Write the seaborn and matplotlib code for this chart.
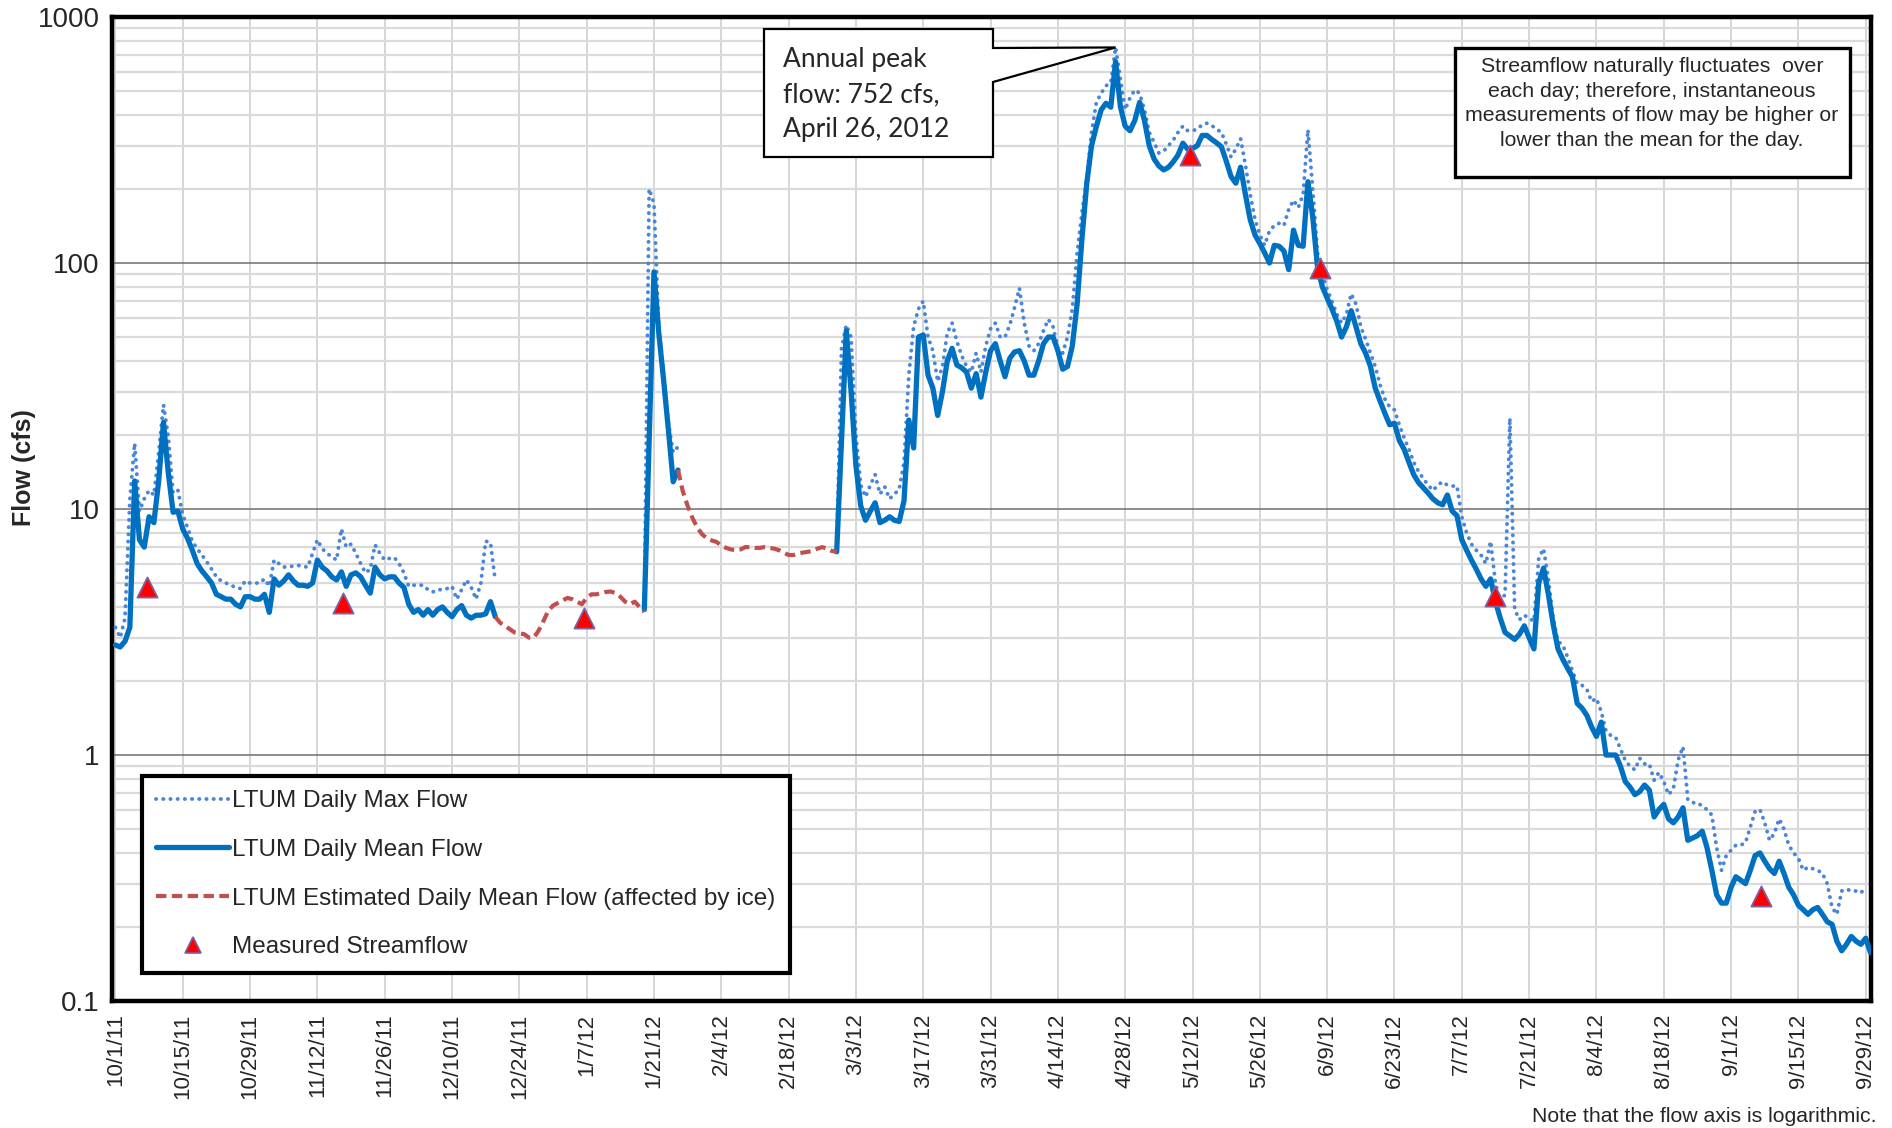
import pandas as pd
import matplotlib.pyplot as plt
import matplotlib.dates as mdates
from matplotlib.lines import Line2D
from matplotlib.patches import Polygon, Rectangle
from matplotlib.ticker import FixedLocator, LogLocator, NullFormatter
import seaborn as sns

# Water year 2012, days counted from 10/1/2011
WY_START = pd.Timestamp('2011-10-01')

# LTUM daily mean flow (cfs) - open water periods
mean_fall_days = list(range(0, 80))
mean_fall = [2.8, 2.75, 2.9, 3.3, 13.0, 7.5, 7.0, 9.3, 8.8, 13.0,
             22.5, 14.0, 9.7, 9.8, 8.3, 7.6, 6.8, 6.0, 5.6, 5.3,
             5.0, 4.5, 4.4, 4.3, 4.3, 4.1, 4.0, 4.4, 4.4, 4.3,
             4.3, 4.5, 3.8, 5.2, 4.9, 5.1, 5.4, 5.1, 4.9, 4.9,
             4.85, 5.0, 6.2, 5.8, 5.6, 5.3, 5.15, 5.55, 4.85, 5.4,
             5.5, 5.3, 4.9, 4.55, 5.8, 5.4, 5.2, 5.3, 5.3, 5.0,
             4.8, 4.1, 3.8, 3.9, 3.7, 3.9, 3.7, 3.9, 4.0, 3.8,
             3.65, 3.9, 4.05, 3.7, 3.6, 3.7, 3.7, 3.75, 4.2, 3.65]
mean_jan_days = [110, 112, 113, 114, 115, 116, 117]
mean_jan = [3.9, 92, 52, 33.5, 21, 12.9, 14.4]
mean_spring_days = [150] + list(range(152, 366))
mean_spring = [6.7,
               53, 30, 15, 10.3, 9.0, 9.8, 10.6, 8.8, 9.0, 9.3,
               9.0, 8.9, 10.8, 23, 17.7, 50, 51, 35, 31, 24,
               30, 40, 45, 38.5, 37.5, 36, 31, 35.5, 28.5, 36,
               44, 47, 40, 34.5, 41, 43.5, 44, 40, 35, 35,
               40, 47, 50, 50, 44, 37, 38, 46, 68, 125,
               210, 300, 359, 419, 446, 430, 659, 432, 360, 345,
               380, 450, 380, 300, 265, 248, 239, 245, 258, 275,
               307, 290, 292, 300, 330, 330, 318, 308, 297, 260,
               225, 211, 245, 190, 150, 130, 120, 110, 100, 118,
               117, 112, 94, 136, 118, 117, 214, 154, 96, 80,
               72, 65, 58, 50, 55, 64, 55, 47, 43, 38,
               31, 27.5, 24.5, 22, 22.3, 19, 17.5, 15.5, 13.8, 12.8,
               12.2, 11.6, 11.0, 10.6, 10.4, 11.4, 9.8, 9.4, 7.5, 6.8,
               6.2, 5.7, 5.2, 4.85, 5.2, 4.2, 3.6, 3.15, 3.05, 2.95,
               3.1, 3.35, 3.0, 2.7, 5.0, 5.75, 4.5, 3.4, 2.7, 2.45,
               2.25, 2.08, 1.62, 1.55, 1.45, 1.3, 1.19, 1.36, 1.0, 1.0,
               1.0, 0.9, 0.78, 0.74, 0.69, 0.71, 0.755, 0.72, 0.56, 0.6,
               0.63, 0.55, 0.53, 0.56, 0.61, 0.45, 0.46, 0.47, 0.49, 0.42,
               0.34, 0.27, 0.25, 0.25, 0.29, 0.32, 0.31, 0.3, 0.34, 0.39,
               0.4, 0.37, 0.345, 0.33, 0.37, 0.33, 0.29, 0.27, 0.245, 0.235,
               0.225, 0.235, 0.24, 0.225, 0.21, 0.205, 0.175, 0.16, 0.17, 0.183,
               0.175, 0.17, 0.18, 0.157]

# estimated daily mean flow while affected by ice
ice_dec_days = list(range(79, 111))
ice_dec = [3.65, 3.45, 3.35, 3.25, 3.15, 3.12, 3.1, 3.0, 3.0, 3.2,
           3.5, 3.85, 4.05, 4.15, 4.25, 4.35, 4.3, 4.2, 4.1, 4.35,
           4.5, 4.5, 4.55, 4.6, 4.62, 4.55, 4.4, 4.2, 4.1, 4.2,
           4.0, 3.82]
ice_feb_days = list(range(117, 151))
ice_feb = [14.4, 11.8, 10.3, 9.2, 8.4, 7.9, 7.6, 7.45, 7.35, 7.1,
           6.95, 6.85, 6.8, 6.85, 7.0, 7.0, 6.95, 6.95, 7.0, 6.95,
           6.9, 6.8, 6.65, 6.5, 6.5, 6.6, 6.65, 6.7, 6.75, 6.9,
           7.0, 6.9, 6.75, 6.7]

# LTUM daily max flow (cfs)
max_fall_days = list(range(0, 80))
max_fall = [3.3, 3.0, 3.6, 10.9, 18.5, 9.8, 11.0, 11.9, 11.4, 17.0,
            26.5, 19.7, 11.6, 11.9, 9.5, 8.4, 7.4, 6.9, 6.5, 6.1,
            5.7, 5.3, 5.1, 5.0, 4.9, 4.8, 4.75, 5.1, 5.0, 5.0,
            5.0, 5.2, 4.85, 6.2, 6.0, 5.8, 5.85, 5.85, 5.9, 5.85,
            5.8, 6.6, 7.5, 6.9, 6.6, 6.4, 6.2, 8.3, 7.0, 7.2,
            6.6, 6.0, 5.5, 5.7, 7.15, 6.6, 6.2, 6.3, 6.35, 6.0,
            5.5, 4.85, 4.9, 4.9, 4.9, 4.7, 4.6, 4.7, 4.7, 4.75,
            4.85, 4.3, 4.7, 5.15, 4.8, 4.3, 5.0, 7.4, 7.3, 5.1]
max_jan_days = [110, 111, 112, 113, 114, 115, 116, 117]
max_jan = [4.2, 200, 175, 55, 35.7, 22.4, 17, 17.9]
max_spring_days = [150] + list(range(151, 365))
max_spring = [6.8,
              45, 56, 50, 20, 12.5, 11.2, 12.5, 13.8, 11.5, 12.3,
              11.0, 11.5, 12.0, 15.5, 35, 55, 65, 70, 50, 44,
              33, 38, 52, 57, 48, 42, 38, 36, 43, 36,
              46, 54, 57, 50, 50, 56, 66, 79, 57, 46,
              44, 47, 53, 59, 55, 45, 43, 50, 65, 110,
              160, 220, 340, 450, 490, 525, 540, 752, 560, 420,
              470, 505, 490, 420, 340, 310, 280, 285, 300, 316,
              340, 360, 345, 345, 350, 365, 370, 362, 350, 340,
              305, 270, 290, 320, 250, 190, 150, 130, 118, 135,
              142, 145, 142, 165, 180, 168, 190, 348, 200, 110,
              90, 78, 70, 62, 57, 62, 75, 68, 55, 49,
              43, 38, 32, 28, 26, 25.3, 22, 19.5, 17.5, 15.5,
              14.2, 13.3, 12.5, 11.9, 12.5, 12.9, 12.5, 12.4, 12.4, 9.3,
              8.0, 7.2, 6.8, 6.5, 6.0, 7.4, 5.0, 4.2, 4.5, 23.4,
              3.9, 3.55, 3.7, 3.6, 3.5, 6.3, 6.9, 5.2, 3.6, 2.9,
              2.8, 2.5, 2.2, 1.95, 1.92, 1.85, 1.65, 1.7, 1.5, 1.25,
              1.2, 1.18, 1.06, 0.95, 0.9, 0.87, 0.97, 0.92, 0.92, 0.79,
              0.85, 0.78, 0.69, 0.73, 0.955, 1.08, 0.66, 0.64, 0.64, 0.62,
              0.6, 0.57, 0.42, 0.34, 0.39, 0.41, 0.43, 0.43, 0.44, 0.51,
              0.59, 0.6, 0.53, 0.45, 0.48, 0.55, 0.5, 0.43, 0.4, 0.38,
              0.34, 0.35, 0.345, 0.34, 0.33, 0.3, 0.24, 0.225, 0.28, 0.285,
              0.28, 0.28, 0.275, 0.29]

# measured streamflow (field visits)
meas_days = [6.5, 47.4, 97.4, 223.5, 250.5, 287.0, 342.3]
meas_cfs = [4.8, 4.15, 3.6, 274, 95, 4.45, 0.267]

ytick_vals = [0.1, 1, 10, 100, 1000]
ytick_labels = ['0.1', '1', '10', '100', '1000']
peak_day, peak_cfs = 208, 752


def to_df(segments):
    rows = []
    for seg, (days, vals) in enumerate(segments):
        rows.append(pd.DataFrame({'day': days, 'cfs': vals, 'seg': seg}))
    df = pd.concat(rows, ignore_index=True)
    df['date'] = WY_START + pd.to_timedelta(df['day'], unit='D')
    return df


max_df = to_df([(max_fall_days, max_fall), (max_jan_days, max_jan),
                (max_spring_days, max_spring)])
mean_df = to_df([(mean_fall_days, mean_fall), (mean_jan_days, mean_jan),
                 (mean_spring_days, mean_spring)])
ice_df = to_df([(ice_dec_days, ice_dec), (ice_feb_days, ice_feb)])
meas_df = pd.DataFrame({'date': WY_START + pd.to_timedelta(meas_days, unit='D'),
                        'cfs': meas_cfs})

sns.set_style('white')
plt.rcParams['font.family'] = ['Liberation Sans', 'DejaVu Sans']

MEAN_C = '#0070C0'
MAX_C = '#4A86D8'
ICE_C = '#C0504D'
MAX_LS = (0, (0.05, 1.8))
ICE_LS = (0, (2.5, 1.3))

fig = plt.figure(figsize=(18.92, 11.28), dpi=100)
ax = fig.add_axes([112 / 1892, 127 / 1128, 1759 / 1892, 984 / 1128])

sns.lineplot(data=max_df, x='date', y='cfs', units='seg', estimator=None, ax=ax,
             color=MAX_C, linewidth=2.8, linestyle=MAX_LS,
             dash_capstyle='round', legend=False, zorder=3)
sns.lineplot(data=mean_df, x='date', y='cfs', units='seg', estimator=None, ax=ax,
             color=MEAN_C, linewidth=3.8, legend=False, zorder=4,
             solid_joinstyle='round', solid_capstyle='round')
sns.lineplot(data=ice_df, x='date', y='cfs', units='seg', estimator=None, ax=ax,
             color=ICE_C, linewidth=3.0, linestyle=ICE_LS,
             legend=False, zorder=4)
sns.scatterplot(data=meas_df, x='date', y='cfs', ax=ax, marker='^', s=210,
                color='#FF0000', edgecolor='#7F5FA0', linewidth=1.3,
                zorder=6, legend=False)

# axes
ax.set_yscale('log')
ax.set_ylim(0.1, 1000)
ax.yaxis.set_major_locator(FixedLocator(ytick_vals))
ax.set_yticklabels(ytick_labels, fontsize=20)
ax.yaxis.set_minor_locator(LogLocator(base=10, subs=range(2, 10)))
ax.yaxis.set_minor_formatter(NullFormatter())

xt = pd.date_range('2011-10-01', '2012-09-29', freq='14D')
ax.set_xlim(WY_START - pd.Timedelta(hours=17), WY_START + pd.Timedelta(days=365.1))
ax.set_xticks(xt)
ax.set_xticklabels([f'{d.month}/{d.day}/{d:%y}' for d in xt], rotation=90,
                   fontsize=16)
ax.xaxis.set_minor_locator(FixedLocator(
    mdates.date2num(pd.date_range('2011-10-08', '2012-09-22', freq='14D'))))
ax.set_xlabel('')
ax.set_ylabel('')

ax.set_axisbelow(True)
ax.grid(which='minor', axis='y', color='#dadada', linewidth=1.6)
ax.grid(which='major', axis='y', color='#7a7a7a', linewidth=1.2)
ax.grid(which='major', axis='x', color='#d0d0d0', linewidth=1.2)
ax.tick_params(axis='both', which='major', direction='out', length=6,
               width=1.2, color='#404040', pad=3)
ax.tick_params(axis='both', which='minor', direction='out', length=4,
               width=1.0, color='#404040')
for s in ax.spines.values():
    s.set_linewidth(3.2)
    s.set_color('black')

fig.text(24 / 1892, 1 - 468 / 1128, 'Flow (cfs)', rotation=90, ha='center',
         va='center', fontsize=18, fontweight='bold')
fig.text(1876 / 1892, 1 - 1117 / 1128, 'Note that the flow axis is logarithmic.',
         ha='right', va='center', fontsize=15.3)

# legend
handles = [
    Line2D([], [], color=MAX_C, lw=2.8, ls=MAX_LS, dash_capstyle='round'),
    Line2D([], [], color=MEAN_C, lw=3.8),
    Line2D([], [], color=ICE_C, lw=3.0, ls=ICE_LS),
    Line2D([], [], color='#FF0000', marker='^', ls='none', markersize=11,
           markeredgecolor='#7F5FA0', markeredgewidth=1.2),
]
labels = ['LTUM Daily Max Flow', 'LTUM Daily Mean Flow',
          'LTUM Estimated Daily Mean Flow (affected by ice)', 'Measured Streamflow']
leg = ax.legend(handles, labels, loc='lower left', bbox_to_anchor=(0.017, 0.0285),
                fontsize=17.5, frameon=True, fancybox=False, edgecolor='black',
                framealpha=1, handlelength=3.0, handletextpad=0.1,
                labelspacing=1.1, borderpad=0.6, borderaxespad=0)
leg.get_frame().set_linewidth(3.0)


def px(x, y):
    return (x / 1892, 1 - y / 1128)


# annual peak callout
tip = fig.transFigure.inverted().transform(
    ax.transData.transform((mdates.date2num(WY_START + pd.Timedelta(days=peak_day)),
                            peak_cfs)))
callout = Polygon([px(764, 29), px(993, 29), px(993, 48), tuple(tip), px(993, 82),
                   px(993, 157), px(764, 157)], closed=True, transform=fig.transFigure,
                  facecolor='white', edgecolor='black', linewidth=1.6, zorder=10)
fig.patches.append(callout)
fig.text(*px(783, 95), 'Annual peak\nflow: 752 cfs,\nApril 26, 2012',
         ha='left', va='center', fontsize=19, linespacing=1.5,
         family=['Lato', 'DejaVu Sans'], zorder=11)

# note box
note = Rectangle(px(1455, 177), (1850 - 1455) / 1892, (177 - 48) / 1128,
                 transform=fig.transFigure, facecolor='white', edgecolor='black',
                 linewidth=2.4, zorder=10)
fig.patches.append(note)
fig.text(*px(1652, 57), 'Streamflow naturally fluctuates  over\neach day; therefore, '
         'instantaneous\nmeasurements of flow may be higher or\nlower than the mean '
         'for the day.', ha='center', va='top', fontsize=15.3, linespacing=1.38,
         zorder=11)

fig.savefig('out.png', dpi=100)
